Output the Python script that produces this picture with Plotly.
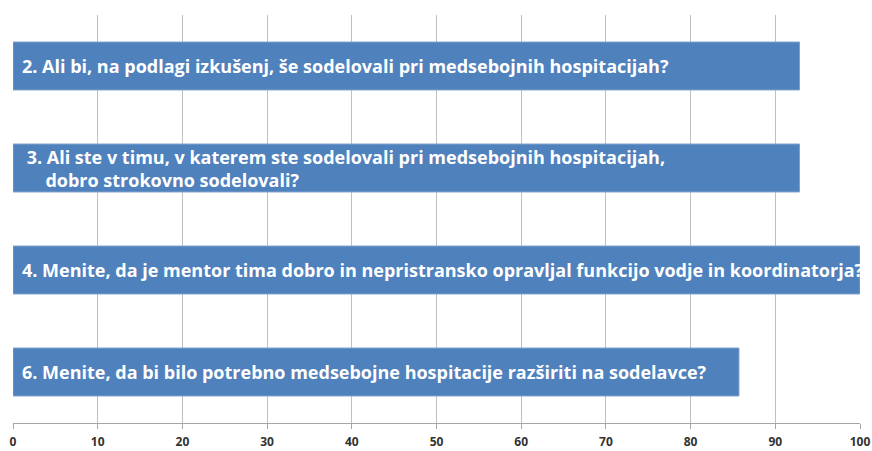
import plotly.graph_objects as go

categories = ["q2", "q3", "q4", "q6"]
values = [92.86, 92.86, 100, 85.71]
labels = [
    "2. Ali bi, na podlagi izkušenj, še sodelovali pri medsebojnih hospitacijah?",
    " 3. Ali ste v timu, v katerem ste sodelovali pri medsebojnih hospitacijah,<br>\u00a0\u00a0\u00a0\u00a0\u00a0dobro strokovno sodelovali?",
    "4. Menite, da je mentor tima dobro in nepristransko opravljal funkcijo vodje in koordinatorja?",
    "6. Menite, da bi bilo potrebno medsebojne hospitacije razširiti na sodelavce?",
]
tick_vals = list(range(0, 101, 10))

fig = go.Figure()
fig.add_trace(go.Bar(
    y=categories, x=values, orientation="h",
    marker=dict(color="#4F81BD", line=dict(color="#7FA2CF", width=1)),
    width=0.47, hoverinfo="skip",
))

for cat, lab in zip(categories, labels):
    fig.add_annotation(
        x=0, y=cat, xref="x", yref="y", text=lab, showarrow=False,
        xanchor="left", yanchor="middle", align="left", xshift=7,
        font=dict(family="Open Sans", size=18, color="white", weight="bold"),
    )

fig.update_layout(
    width=872, height=451,
    margin=dict(l=13, r=12, t=15, b=28, autoexpand=False),
    paper_bgcolor="white", plot_bgcolor="white",
    showlegend=False,
    xaxis=dict(
        range=[0, 100], tickvals=tick_vals, showgrid=True, automargin=False,
        gridcolor="#C0C0C0", gridwidth=1, zeroline=False,
        showline=True, linecolor="#A6A6A6", linewidth=1,
        ticks="outside", ticklen=5, tickcolor="#A6A6A6", ticklabelstandoff=3,
        tickfont=dict(family="Open Sans", size=12, color="#333333", weight="bold"),
        fixedrange=True,
    ),
    yaxis=dict(
        categoryorder="array", categoryarray=categories, autorange="reversed",
        showticklabels=False, showgrid=False, zeroline=False, showline=False,
        automargin=False, range=[3.5, -0.5], fixedrange=True,
    ),
    bargap=0.53,
)

fig.write_html("out.html", config={"displayModeBar": False},
               post_script="document.body.style.margin='0';")
